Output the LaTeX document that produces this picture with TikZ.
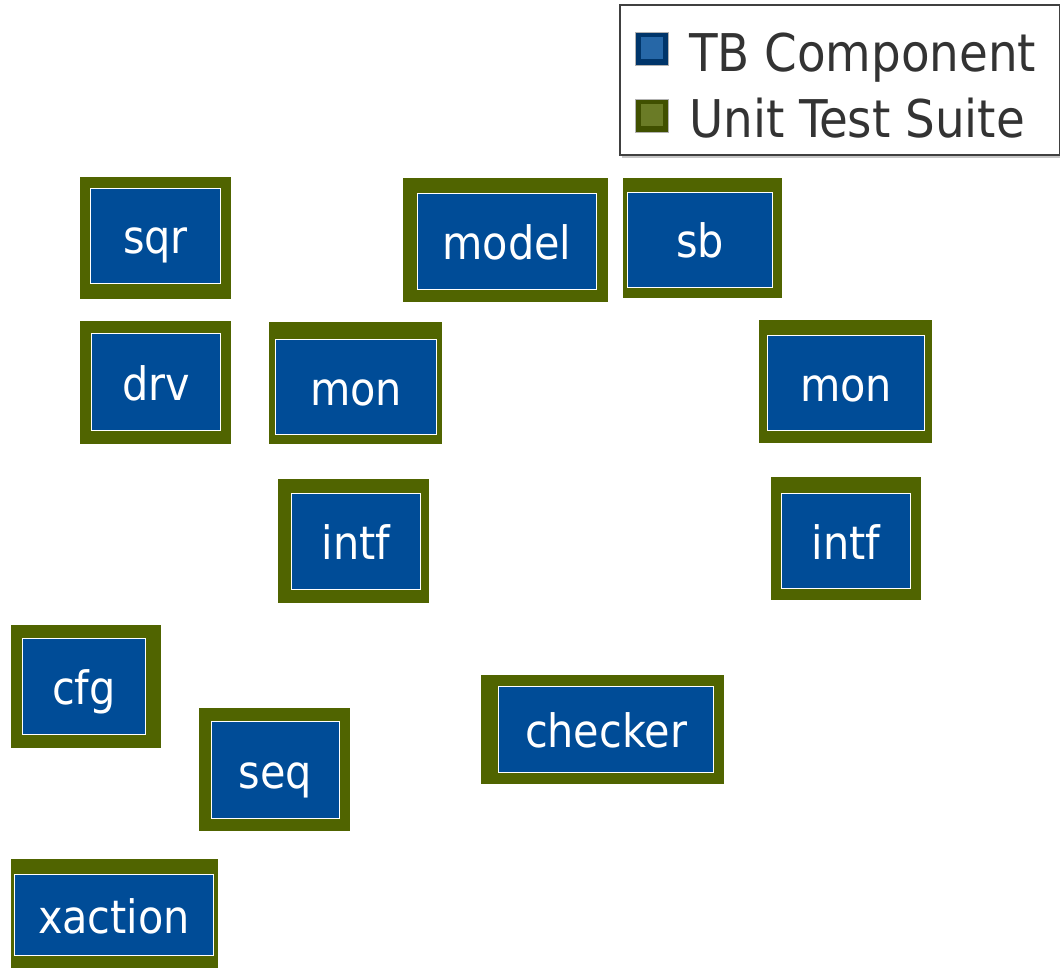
\documentclass[tikz,border=0pt]{standalone}
\usepackage{fontspec}
\setmainfont{DejaVu Sans Condensed}
\usetikzlibrary{calc}
\definecolor{suitegreen}{HTML}{506400}
\definecolor{tbblue}{HTML}{004C97}
\definecolor{legtext}{HTML}{333333}
\tikzset{
  outerbox/.style={rectangle, fill=suitegreen, draw=none, inner sep=0pt, outer sep=0pt},
  innerbox/.style={rectangle, fill=tbblue, draw=white, line width=1.3pt, inner sep=0pt, outer sep=0pt,
    text=white, text height=36pt, text depth=0pt, font=\fontsize{46}{50}\selectfont},
  legtxt/.style={anchor=base west, inner sep=0pt, text=legtext, font=\fontsize{52}{56}\selectfont},
}
\begin{document}
\begin{tikzpicture}[x=1pt,y=-1pt]
\useasboundingbox (0,0) rectangle (1060,968);
% legend
\fill[gray!45] (622,152) rectangle (1060,158);
\node[rectangle, draw=black!75, line width=2pt, fill=white, minimum width=440, minimum height=150, inner sep=0pt, outer sep=0pt, anchor=north west] (legend) at (620,5) {};
\node[rectangle, fill=tbblue!70!black, draw=gray!60, line width=0.8pt, minimum width=33, minimum height=33, inner sep=0pt] (legA) at (651.5,48.5) {};
\fill[tbblue!85!white] ($(legA.center)+(-11,-11)$) rectangle ($(legA.center)+(11,11)$);
\node[rectangle, fill=suitegreen!80!black, draw=gray!60, line width=0.8pt, minimum width=33, minimum height=33, inner sep=0pt] (legB) at (651.5,115.5) {};
\fill[suitegreen!85!white] ($(legB.center)+(-11,-11)$) rectangle ($(legB.center)+(11,11)$);
\node[legtxt] (legAt) at (689,72) {TB Component};
\node[legtxt] (legBt) at (689,138) {Unit Test Suite};
% boxes
\node[outerbox, minimum width=151, minimum height=122] (sqrO) at (155.5,238) {};
\node[innerbox, minimum width=130, minimum height=95] (sqr) at (155.5,236) {sqr};
\node[outerbox, minimum width=151, minimum height=123] (drvO) at (155.5,382.5) {};
\node[innerbox, minimum width=129, minimum height=97] (drv) at (156,382) {drv};
\node[outerbox, minimum width=205, minimum height=124] (modelO) at (505.5,240) {};
\node[innerbox, minimum width=179, minimum height=96] (model) at (507,241.5) {model};
\node[outerbox, minimum width=159, minimum height=120] (sbO) at (702.5,238) {};
\node[innerbox, minimum width=145, minimum height=95] (sb) at (700,240) {sb};
\node[outerbox, minimum width=173, minimum height=122] (monLO) at (355.5,383) {};
\node[innerbox, minimum width=161, minimum height=95] (monL) at (356,387) {mon};
\node[outerbox, minimum width=173, minimum height=123] (monRO) at (845.5,381.5) {};
\node[innerbox, minimum width=157, minimum height=95] (monR) at (846,383) {mon};
\node[outerbox, minimum width=151, minimum height=124] (intfLO) at (353.5,541) {};
\node[innerbox, minimum width=129, minimum height=96] (intfL) at (356,541.5) {intf};
\node[outerbox, minimum width=150, minimum height=123] (intfRO) at (846,538.5) {};
\node[innerbox, minimum width=129, minimum height=95] (intfR) at (846,541) {intf};
\node[outerbox, minimum width=150, minimum height=123] (cfgO) at (86,686.5) {};
\node[innerbox, minimum width=123, minimum height=96] (cfg) at (84,686.5) {cfg};
\node[outerbox, minimum width=151, minimum height=123] (seqO) at (274.5,769.5) {};
\node[innerbox, minimum width=128, minimum height=97] (seq) at (275.5,770) {seq};
\node[outerbox, minimum width=243, minimum height=109] (checkerO) at (602.5,729.5) {};
\node[innerbox, minimum width=215, minimum height=86] (checker) at (606,729.5) {checker};
\node[outerbox, minimum width=207, minimum height=109] (xactionO) at (114.5,913.5) {};
\node[innerbox, minimum width=199, minimum height=81] (xaction) at (114,915) {xaction};
\end{tikzpicture}
\end{document}
